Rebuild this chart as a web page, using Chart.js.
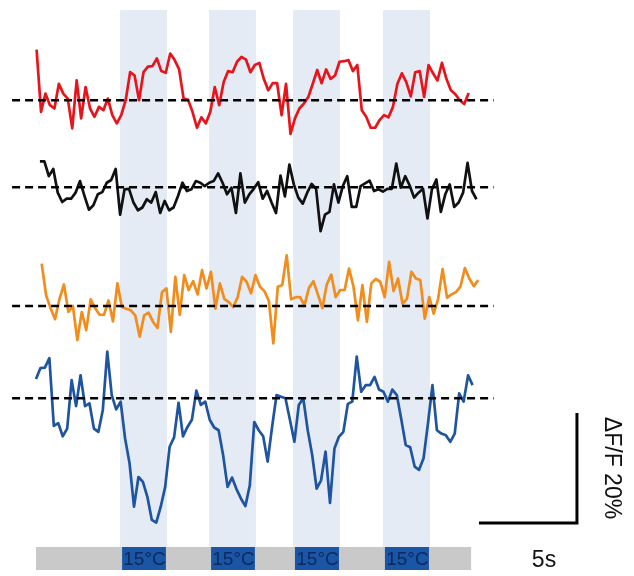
<!DOCTYPE html>
<html>
<head>
<meta charset="utf-8">
<script src="https://cdn.jsdelivr.net/npm/chart.js@4.4.1/dist/chart.umd.min.js"></script>
<style>
  body { margin: 0; background: #fff; }
  #wrap { width: 634px; height: 576px; position: relative; }
</style>
</head>
<body>
<div id="wrap"><canvas id="myChart"></canvas></div>
<script>
// dF/F (%) relative to each cell's baseline, sampled at frameRate
const frameRate = 4.4; // Hz
const redTrace = [9.2,-2.1,1.2,-0.9,-1.5,3.0,1.2,0.3,-5.1,3.6,-3.3,2.4,-1.5,-3.0,-1.2,-1.8,0.3,-2.7,-4.2,-2.7,0,5.1,4.5,0,5.1,6.1,6.2,7.6,5.3,5.0,8.5,7.3,5.6,0.3,0.1,-2.1,-5.0,-3.1,-4.2,-2.1,2.4,-0.9,3.3,5.3,5.1,7.0,7.9,7.4,5.1,6.4,6.8,3.9,1.8,3.1,3.1,-2.7,3.0,-6.1,-3.3,-1.5,-0.6,0.6,3.0,5.5,3.1,5.6,3.9,4.5,7.0,7.1,7.3,5.3,6.4,-1.8,-3.0,-5.0,-5.0,-3.6,-2.7,-3.1,-1.2,3.0,4.9,3.3,0.7,5.1,5.3,0.6,6.4,4.9,3.6,6.8,3.9,1.8,1.1,0,-0.7,1.3];
const blackTrace = [4.7,4.7,2.0,3.3,-1.0,-2.7,-2.1,-2.1,-1.0,1.1,-1.6,-4.1,-3.3,-1.3,-0.9,0.8,1.3,3.3,-5.0,-0.4,-0.3,-2.8,-4.2,-3.7,-2.2,-2.8,-0.9,-4.7,-2.5,-4.2,-3.7,-1.6,0.8,-0.7,-0.4,1.1,0.8,0.2,0.8,1.1,2.5,0.8,-1.3,-0.1,-4.7,2.5,-2.8,-1.3,-0.3,0.9,-2.1,-0.7,-2.8,-4.7,2.1,-1.7,4.1,0.5,-1.9,-3.0,-1.0,0.6,-0.3,-8.0,-5.0,-4.5,0.5,-2.8,0.2,2.0,-3.6,-3.6,0.2,0.7,1.2,-0.7,-0.4,-0.8,-0.3,-0.3,4.3,-0.1,2.0,0.3,-1.9,-1.0,-0.3,-5.7,-0.4,1.4,-4.5,-1.3,0.5,-3.6,-2.8,-1.0,4.4,-0.7,-2.2];
const orangeTrace = [7.7,1.9,-0.4,-2.4,1.3,3.9,-1.1,0,-6.2,-1.1,-4.4,1.2,-0.4,-1.6,-1.6,1.0,-2.8,4.1,-0.2,-0.5,-0.8,-1.7,-5.6,-1.7,-1.2,-2.9,-4.0,2.5,3.2,-4.7,5.3,-1.6,5.6,2.9,4.5,2.1,6.5,3.2,6.2,-0.5,4.1,1.3,0.7,-0.2,1.6,5.3,4.4,2.3,5.6,3.5,2.7,0.9,-6.8,3.5,3.8,9.2,1.2,1.6,1.6,0.1,3.3,4.5,2.1,-0.4,3.9,5.7,1.6,2.9,2.9,6.8,3.5,-2.6,3.8,-2.9,4.1,4.9,4.4,1.6,8.0,2.7,5.0,0.4,1.3,6.2,5.0,4.7,-2.3,1.6,-1.4,1.3,6.7,1.5,2.1,2.5,3.5,6.9,5.0,3.6,4.7];
const blueTrace = [3.5,5.5,5.6,7.3,-5.0,-4.5,-6.9,-5.5,3.3,-1.4,4.2,-1.4,-0.9,-5.5,-6.1,-2.1,8.5,0.6,-2.0,-0.6,-7.3,-11.8,-19.7,-14.3,-15.2,-17.9,-22.1,-22.6,-19.7,-16.1,-8.8,-7.1,-0.8,-6.9,-5.2,-3.9,1.4,-1.2,-0.6,-3.9,-5.3,-5.8,-10.3,-16.1,-14.4,-16.5,-18.2,-19.6,-15.8,-4.3,-5.8,-6.9,-11.5,-5.2,0.6,0.3,0,-3.9,-7.9,-1.2,0,-5.8,-10.3,-16.4,-14.9,-9.7,-19.0,-9.1,-7.0,-6.1,-1.0,-0.6,7.6,1.2,2.4,2.4,3.9,1.6,1.2,-0.6,1.6,0.6,-3.8,-8.5,-8.9,-12.4,-13.0,-10.9,-4.5,2.4,-5.8,-6.4,-6.7,-7.9,-6.4,0.9,-0.6,4.2,2.4];
const traceStarts = [0.03, 0.2, 0.29, 0]; // s
const coolingOn = [4.29, 8.83, 13.11, 17.70]; // s
const coolingOff = [6.68, 11.22, 15.51, 20.10]; // s
const stimLabel = '15°C';
const recordEnd = 22.2; // s
const scaleBarTime = 5;   // s
const scaleBarDff = 20;   // %

// layout (display units: s on x, % on y)
const pxPerSec = 19.6, pxPerPct = 5.5;
const baselines = [86.5, 70.7, 49.1, 32.3];
const colors = ['#e8141b', '#111111', '#f28c1c', '#1f55a0'];
const traces = [redTrace, blackTrace, orangeTrace, blueTrace];

const datasets = [];
traces.forEach((tr, k) => {
  datasets.push({
    data: [{x: -1.22, y: baselines[k]}, {x: 23.35, y: baselines[k]}],
    borderColor: '#000', borderWidth: 2.5, borderDash: [8, 5]
  });
});
traces.forEach((tr, k) => {
  datasets.push({
    data: tr.map((v, i) => ({x: traceStarts[k] + i / frameRate, y: baselines[k] + v})),
    borderColor: colors[k], borderWidth: 2.7
  });
});
// scale bar
const sbX = 27.6, sbY = 9.64;
datasets.push({
  data: [{x: sbX - scaleBarTime, y: sbY}, {x: sbX, y: sbY}, {x: sbX, y: sbY + scaleBarDff}],
  borderColor: '#000', borderWidth: 3, borderJoinStyle: 'miter'
});

const overlay = {
  id: 'overlay',
  beforeDatasetsDraw(chart) {
    const {ctx, scales: {x}} = chart;
    ctx.save();
    ctx.fillStyle = '#e4ebf5';
    coolingOn.forEach((t, i) => {
      const a = x.getPixelForValue(t), b = x.getPixelForValue(coolingOff[i]);
      ctx.fillRect(a, 10, b - a, 537);
    });
    // stimulus bar
    const g0 = x.getPixelForValue(0), g1 = x.getPixelForValue(recordEnd);
    ctx.fillStyle = '#c9c9c9';
    ctx.fillRect(g0, 547, g1 - g0, 23);
    ctx.font = '19px "Liberation Sans", Arial, sans-serif';
    ctx.textAlign = 'center';
    ctx.textBaseline = 'middle';
    coolingOn.forEach((t, i) => {
      const a = x.getPixelForValue(t), b = x.getPixelForValue(coolingOff[i]);
      ctx.fillStyle = '#1b55a6';
      ctx.fillRect(a + 2, 547, b - a - 3, 23);
      ctx.fillStyle = '#0c2a5c';
      ctx.fillText(stimLabel, (a + b) / 2 + 1, 560);
    });
    ctx.restore();
  },
  afterDatasetsDraw(chart) {
    const {ctx, scales: {y}} = chart;
    ctx.save();
    ctx.fillStyle = '#111';
    ctx.font = '23px "Liberation Sans", Arial, sans-serif';
    ctx.textAlign = 'center';
    ctx.textBaseline = 'middle';
    ctx.fillText(scaleBarTime + 's', 544, 561);
    ctx.translate(611, y.getPixelForValue(sbY + scaleBarDff / 2));
    ctx.rotate(Math.PI / 2);
    ctx.fillText('ΔF/F ' + scaleBarDff + '%', 0, 0);
    ctx.restore();
  }
};

var ctx = document.getElementById('myChart').getContext('2d');
var myChart = new Chart(ctx, {
  type: 'line',
  data: { datasets: datasets },
  options: {
    responsive: true,
    maintainAspectRatio: false,
    animation: false,
    layout: { padding: 0 },
    elements: { point: { radius: 0 }, line: { tension: 0, borderJoinStyle: 'round' } },
    plugins: { legend: { display: false }, tooltip: { enabled: false } },
    scales: {
      x: { type: 'linear', display: false, min: -36 / pxPerSec, max: (634 - 36) / pxPerSec },
      y: { display: false, min: 0, max: 576 / pxPerPct }
    }
  },
  plugins: [overlay]
});
</script>
</body>
</html>
